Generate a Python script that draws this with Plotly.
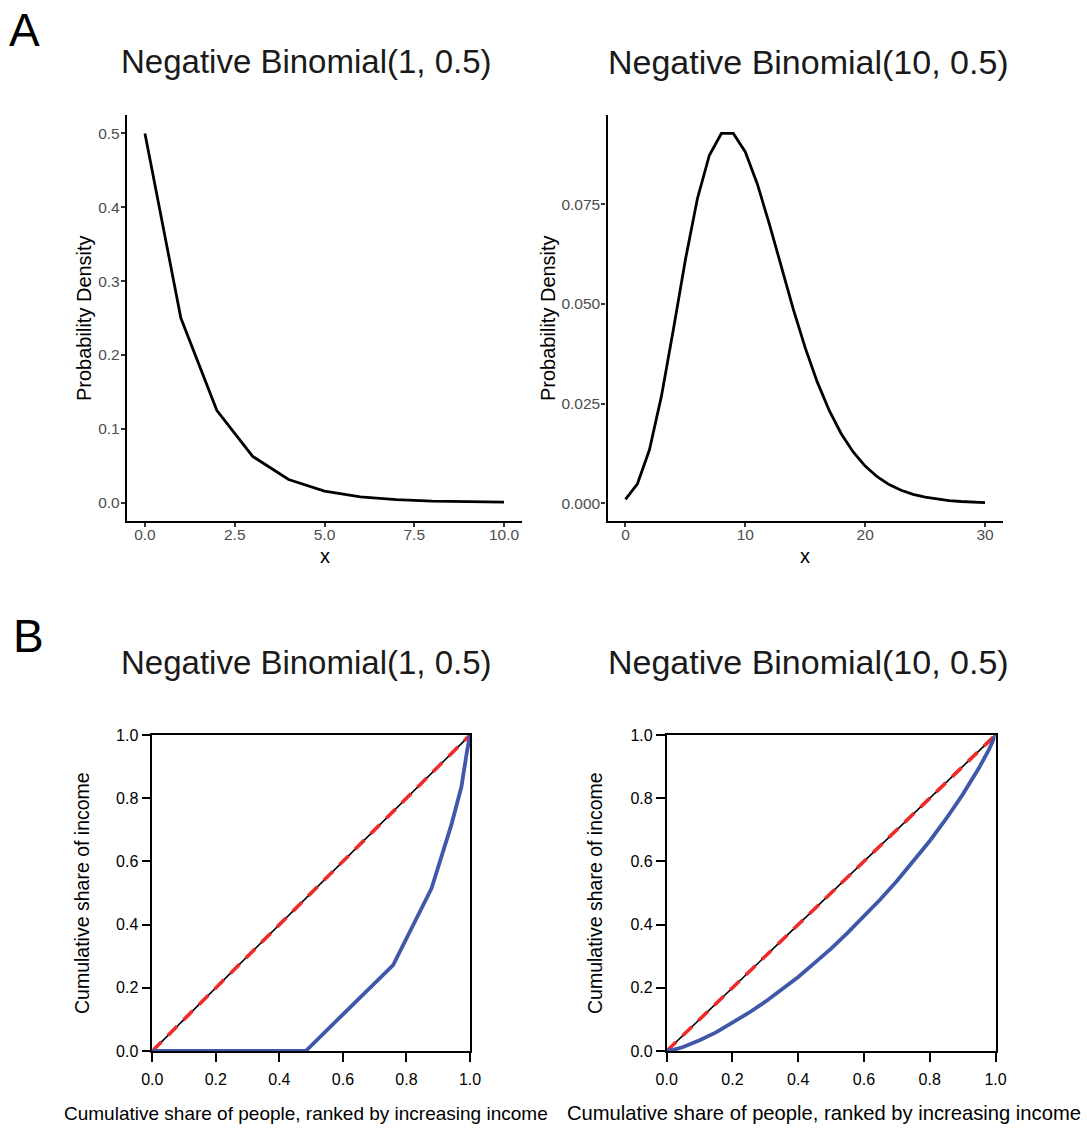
import plotly.graph_objects as go

W, H = 1087, 1131

# ---------------- data ----------------
nb1_x = [0, 1, 2, 3, 4, 5, 6, 7, 8, 9, 10]
nb1_density = [0.5, 0.25, 0.125, 0.0625, 0.03125, 0.015625, 0.0078, 0.0039,
               0.00195, 0.00098, 0.00049]

nb10_x = [0, 1, 2, 3, 4, 5, 6, 7, 8, 9, 10, 11, 12, 13, 14, 15, 16, 17, 18, 19,
          20, 21, 22, 23, 24, 25, 26, 27, 28, 29, 30]
nb10_density = [0.00098, 0.00488, 0.01343, 0.02686, 0.04364, 0.06110, 0.07637,
                0.08728, 0.09274, 0.09274, 0.08810, 0.08009, 0.07008, 0.05930,
                0.04871, 0.03897, 0.03044, 0.02328, 0.01746, 0.01287, 0.00933,
                0.00666, 0.00469, 0.00327, 0.00225, 0.00153, 0.00103, 0.00069,
                0.00045, 0.00030, 0.00019]

lorenz1_people = [0.0, 0.483, 0.758, 0.879, 0.942, 0.973, 0.990, 1.0]
lorenz1_income = [0.0, 0.0, 0.272, 0.515, 0.718, 0.836, 0.945, 1.0]

lorenz10_people = [0.0, 0.02, 0.05, 0.10, 0.15, 0.20, 0.25, 0.30, 0.35, 0.40,
                   0.45, 0.50, 0.55, 0.60, 0.65, 0.70, 0.75, 0.80, 0.85, 0.90,
                   0.95, 0.98, 1.0]
lorenz10_income = [0.0, 0.0034, 0.0128, 0.0338, 0.0588, 0.0887, 0.1211, 0.156,
                   0.1945, 0.2345, 0.2788, 0.3238, 0.3738, 0.425, 0.48, 0.538,
                   0.5993, 0.6646, 0.735, 0.8114, 0.896, 0.9535, 1.0]

equality = [0.0, 1.0]

titles = ["Negative Binomial(1, 0.5)", "Negative Binomial(10, 0.5)"]
panel_labels = ["A", "B"]

nb1_xticks = [0, 2.5, 5, 7.5, 10]
nb1_xticktext = ["0.0", "2.5", "5.0", "7.5", "10.0"]
nb1_yticks = [0, 0.1, 0.2, 0.3, 0.4, 0.5]
nb1_yticktext = ["0.0", "0.1", "0.2", "0.3", "0.4", "0.5"]
nb10_xticks = [0, 10, 20, 30]
nb10_yticks = [0, 0.025, 0.05, 0.075]
nb10_yticktext = ["0.000", "0.025", "0.050", "0.075"]
lz_ticks = [0, 0.2, 0.4, 0.6, 0.8, 1.0]
lz_ticktext = ["0.0", "0.2", "0.4", "0.6", "0.8", "1.0"]

FONT = "Liberation Sans, Arial, Helvetica, sans-serif"
BLUE = "#3F58A9"
RED = "#EE2A2A"


def px_x(p):
    return p / W


def px_y(p):
    return 1 - p / H


fig = go.Figure()

# ---- top panels
fig.add_trace(go.Scatter(x=nb1_x, y=nb1_density, mode="lines",
                         line=dict(color="black", width=2.8),
                         xaxis="x", yaxis="y", showlegend=False))
fig.add_trace(go.Scatter(x=nb10_x, y=nb10_density, mode="lines",
                         line=dict(color="black", width=2.8),
                         xaxis="x2", yaxis="y2", showlegend=False))

# ---- bottom panels
for xa, ya, px_, inc in [("x3", "y3", lorenz1_people, lorenz1_income),
                         ("x4", "y4", lorenz10_people, lorenz10_income)]:
    fig.add_trace(go.Scatter(x=equality, y=equality, mode="lines",
                             line=dict(color="black", width=1.6),
                             xaxis=xa, yaxis=ya, showlegend=False))
    fig.add_trace(go.Scatter(x=equality, y=equality, mode="lines",
                             line=dict(color=RED, width=3.6, dash="13px,9px"),
                             xaxis=xa, yaxis=ya, showlegend=False))
    fig.add_trace(go.Scatter(x=px_, y=inc, mode="lines",
                             line=dict(color=BLUE, width=3.8),
                             xaxis=xa, yaxis=ya, showlegend=False))

top_axis = dict(showline=True, linecolor="black", linewidth=2.4, ticks="outside",
                ticklen=4, tickwidth=1.5, tickcolor="#333333", showgrid=False,
                zeroline=False, tickfont=dict(family=FONT, size=15.5, color="#4D4D4D"))
bot_axis = dict(showline=True, linecolor="black", linewidth=1.6, mirror=True,
                ticks="outside", ticklen=9, tickwidth=1.6, tickcolor="black",
                showgrid=False, zeroline=False, range=[0, 1],
                tickvals=lz_ticks, ticktext=lz_ticktext,
                tickfont=dict(family=FONT, size=16, color="black"))

top_y_dom = [px_y(521), px_y(115)]
bot_y_dom = [px_y(1051), px_y(735)]

fig.update_layout(
    width=W, height=H,
    margin=dict(l=0, r=0, t=0, b=0, autoexpand=False),
    paper_bgcolor="white", plot_bgcolor="white",
    font=dict(family=FONT, color="black"),
    xaxis=dict(top_axis, domain=[px_x(127), px_x(522)], range=[-0.5, 10.5],
               tickvals=nb1_xticks, ticktext=nb1_xticktext, anchor="y",
               ticklabelstandoff=-6),
    yaxis=dict(top_axis, domain=top_y_dom, range=[-0.025, 0.525],
               tickvals=nb1_yticks, ticktext=nb1_yticktext, anchor="x",
               ticklabelstandoff=-2),
    xaxis2=dict(top_axis, domain=[px_x(607.5), px_x(1003)], range=[-1.5, 31.5],
                tickvals=nb10_xticks, anchor="y2", ticklabelstandoff=-6),
    yaxis2=dict(top_axis, domain=top_y_dom, range=[-0.00444, 0.09737],
                tickvals=nb10_yticks, ticktext=nb10_yticktext, anchor="x2",
                ticklabelstandoff=-2),
    xaxis3=dict(bot_axis, domain=[px_x(152.3), px_x(470)], anchor="y3",
                ticklabelstandoff=4),
    yaxis3=dict(bot_axis, domain=bot_y_dom, anchor="x3"),
    xaxis4=dict(bot_axis, domain=[px_x(666.7), px_x(995.5)], anchor="y4",
                ticklabelstandoff=4),
    yaxis4=dict(bot_axis, domain=bot_y_dom, anchor="x4"),
)

ann = []


def add_text(text, x, y, size, color="black", angle=0):
    ann.append(dict(text=text, x=px_x(x), y=px_y(y), xref="paper", yref="paper",
                    xanchor="center", yanchor="middle", showarrow=False,
                    textangle=angle, font=dict(family=FONT, size=size, color=color)))


# panel letters
add_text(panel_labels[0], 24, 30, 46)
add_text(panel_labels[1], 28, 636, 46)
# panel titles
add_text(titles[0], 306, 62, 33, "#1a1a1a")
add_text(titles[1], 808, 62, 34, "#1a1a1a")
add_text(titles[0], 306, 662, 33, "#1a1a1a")
add_text(titles[1], 808, 662, 34, "#1a1a1a")
# top axis titles
add_text("Probability Density", 84, 318, 20, angle=-90)
add_text("Probability Density", 548, 318, 20, angle=-90)
add_text("x", 325, 556, 20)
add_text("x", 805, 556, 20)
# bottom axis titles
add_text("Cumulative share of income", 82, 893, 19.5, angle=-90)
add_text("Cumulative share of income", 595, 893, 19.5, angle=-90)
add_text("Cumulative share of people, ranked by increasing income", 306, 1113, 19)
add_text("Cumulative share of people, ranked by increasing income", 824, 1113, 20.2)

fig.update_layout(annotations=ann)

fig.write_html(
    "out.html",
    config={"displayModeBar": False},
    post_script="document.body.style.margin='0';document.body.style.padding='0';"
                "document.body.style.overflow='hidden';"
                "document.documentElement.style.overflow='hidden';",
)
